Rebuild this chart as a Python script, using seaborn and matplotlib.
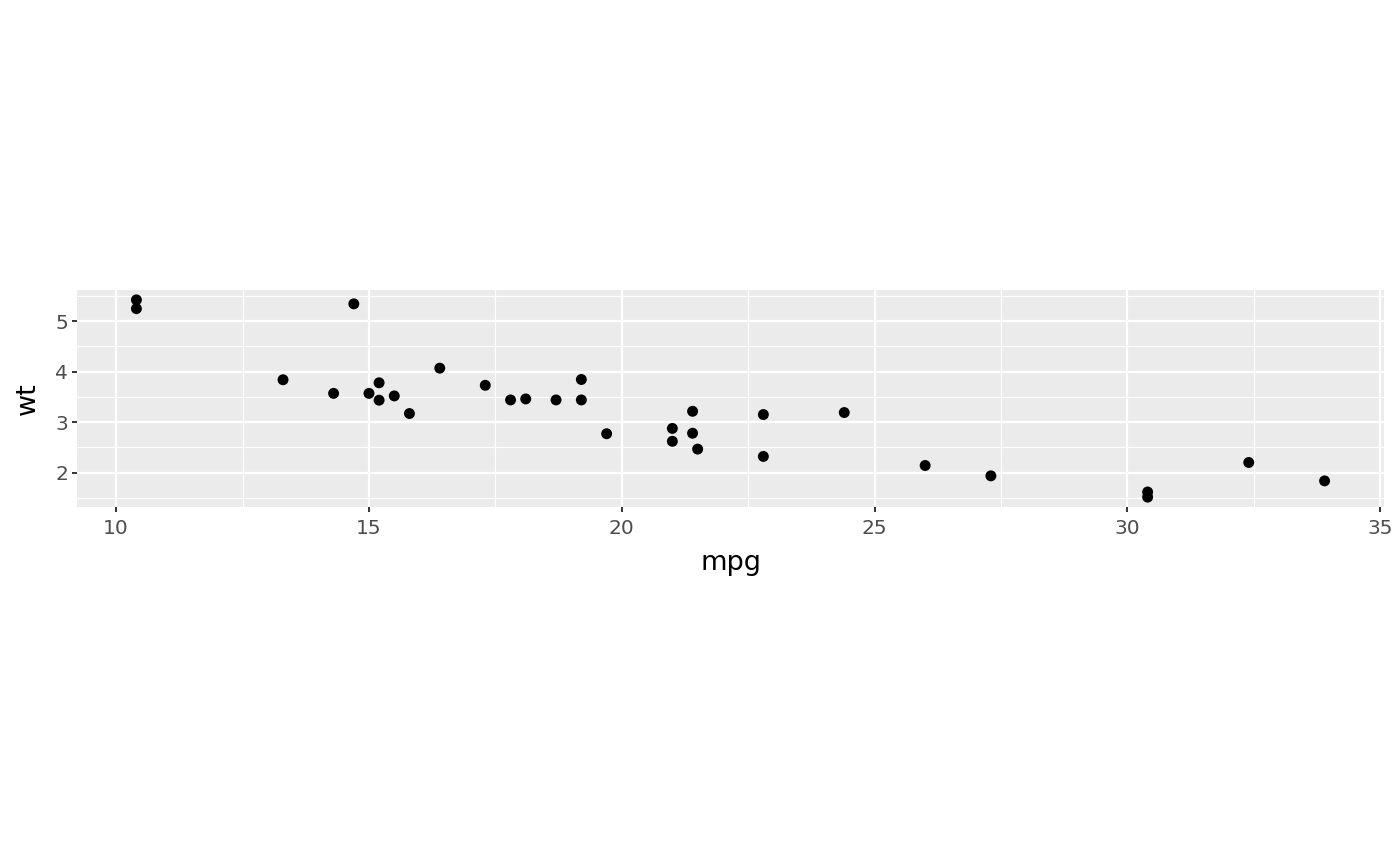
import numpy as np
import pandas as pd
import seaborn as sns
import matplotlib.pyplot as plt
from matplotlib.ticker import MultipleLocator

# mtcars: mpg vs wt
mpg = [21.0, 21.0, 22.8, 21.4, 18.7, 18.1, 14.3, 24.4, 22.8, 19.2, 17.8,
       16.4, 17.3, 15.2, 10.4, 10.4, 14.7, 32.4, 30.4, 33.9, 21.5, 15.5,
       15.2, 13.3, 19.2, 27.3, 26.0, 30.4, 15.8, 19.7, 15.0, 21.4]
wt = [2.620, 2.875, 2.320, 3.215, 3.440, 3.460, 3.570, 3.190, 3.150, 3.440,
      3.440, 4.070, 3.730, 3.780, 5.250, 5.424, 5.345, 2.200, 1.615, 1.835,
      2.465, 3.520, 3.435, 3.840, 3.845, 1.935, 2.140, 1.513, 3.170, 2.770,
      3.570, 2.780]
df = pd.DataFrame({'mpg': mpg, 'wt': wt})

fig = plt.figure(figsize=(14, 8.66), dpi=100)
ax = fig.add_axes([77/1400, 1 - 507/866, (1384-77)/1400, (507-290)/866])
ax.set_facecolor('#EBEBEB')

sns.scatterplot(data=df, x='mpg', y='wt', ax=ax, color='black', s=62,
                edgecolor='none', zorder=3)

# ggplot-like 5% expansion
def expand(v):
    lo, hi = min(v), max(v)
    d = (hi - lo) * 0.05
    return lo - d, hi + d
ax.set_xlim(*expand(mpg))
ax.set_ylim(*expand(wt))

ax.xaxis.set_major_locator(MultipleLocator(5))
ax.xaxis.set_minor_locator(MultipleLocator(2.5))
ax.yaxis.set_major_locator(MultipleLocator(1))
ax.yaxis.set_minor_locator(MultipleLocator(0.5))
ax.grid(which='major', color='white', linewidth=1.6, zorder=0)
ax.grid(which='minor', color='white', linewidth=0.8, zorder=0)
ax.set_axisbelow(True)
for s in ax.spines.values():
    s.set_visible(False)
ax.tick_params(which='major', length=3.5, width=1.4, color='#333333',
               labelcolor='#4D4D4D', labelsize=14.5, pad=3)
ax.tick_params(axis='x', which='major', pad=5)
ax.tick_params(which='minor', length=0)
ax.set_xlabel('mpg', fontsize=19.5, color='black', labelpad=8.5)
ax.set_ylabel('wt', fontsize=19.5, color='black', labelpad=10)

fig.savefig('out.png', dpi=100, facecolor='white')
